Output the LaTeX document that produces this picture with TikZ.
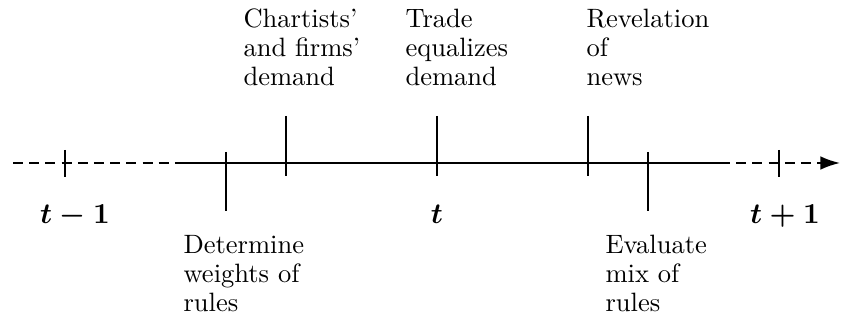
\documentclass[tikz,border=0pt]{standalone}
\usepackage{amsmath}
\usetikzlibrary{arrows.meta, positioning}

\begin{document}
\begin{tikzpicture}[x=0.01325cm, y=-0.01325cm,
    axisline/.style = {line width=0.7pt},
    dashline/.style = {line width=0.7pt, dash pattern=on 3.8pt off 2.3pt},
    tickmark/.style = {line width=0.8pt},
    evtext/.style = {anchor=base west, inner sep=0pt, align=left, font=\fontsize{10}{11.1}\selectfont},
    timelabel/.style = {anchor=base, inner sep=0pt, font=\fontsize{10.5}{12}\selectfont\boldmath}
]
\useasboundingbox (0,0) rectangle (843,325);

% time axis
\coordinate (start) at (13,163);
\coordinate (solidA) at (178,163);
\coordinate (solidB) at (720,163);
\coordinate (stop) at (840,163);
\draw[dashline] (start) -- (solidA);
\draw[axisline] (solidA) -- (solidB);
\draw[dashline, -{Latex[length=2.6mm, width=1.8mm]}] (solidB) -- (stop);

% period ticks
\coordinate (prev) at (65,163);
\coordinate (next) at (779,163);
\foreach \p in {prev, next}
    \draw[tickmark] (\p) ++(0,-13) -- ++(0,27);

% event ticks
\coordinate (weights) at (226,163);
\coordinate (demand) at (286,163);
\coordinate (now) at (437,163);
\coordinate (news) at (588,163);
\coordinate (evaluate) at (648,163);
\foreach \p in {weights, evaluate}
    \draw[tickmark] (\p) ++(0,-11) -- ++(0,59);
\foreach \p in {demand, now, news}
    \draw[tickmark] (\p) ++(0,-47) -- ++(0,60);

% period labels
\node[timelabel] (lblprev) at (75,224) {$t-1$};
\node[timelabel] (lblnow) at (437,224) {$t$};
\node[timelabel] (lblnext) at (785,224) {$t+1$};

% event texts (anchored at last line)
\node[evtext] (txtdemand) at (243,86) {Chartists'\\and firms'\\demand};
\node[evtext] (txttrade) at (405,86) {Trade\\equalizes\\demand};
\node[evtext] (txtnews) at (586,86) {Revelation\\of\\news};
\node[evtext] (txtweights) at (183,312) {Determine\\weights of\\rules};
\node[evtext] (txtevaluate) at (605,312) {Evaluate\\mix of\\rules};

\end{tikzpicture}
\end{document}
